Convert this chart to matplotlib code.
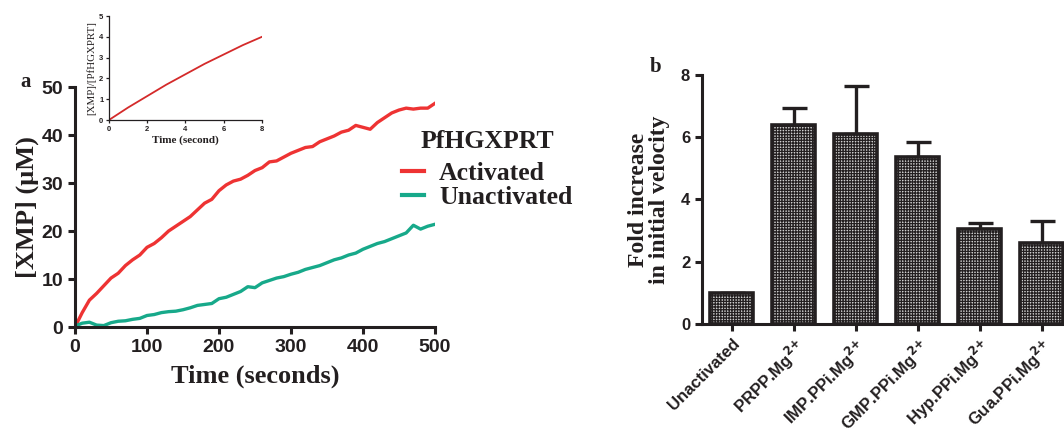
import matplotlib
matplotlib.use("Agg")
import matplotlib.pyplot as plt
import numpy as np

# ---------------- data ----------------
time_s = list(range(0, 501, 10))
activated = [0, 3.0, 5.6, 7.0, 8.6, 10.2, 11.2, 12.8, 14.0, 15.0,
             16.6, 17.4, 18.6, 20.0, 21.0, 22.0, 23.0, 24.4, 25.8, 26.6,
             28.4, 29.6, 30.4, 30.8, 31.6, 32.6, 33.2, 34.4, 34.6, 35.4,
             36.2, 36.8, 37.4, 37.6, 38.6, 39.2, 39.8, 40.6, 41.0, 42.0,
             41.6, 41.2, 42.6, 43.6, 44.6, 45.2, 45.6, 45.4, 45.6, 45.6, 46.6]
unactivated = [0.2, 0.8, 1.0, 0.4, 0.3, 0.9, 1.2, 1.3, 1.6, 1.8,
               2.4, 2.6, 3.0, 3.2, 3.3, 3.6, 4.0, 4.5, 4.7, 4.9,
               5.9, 6.2, 6.8, 7.4, 8.4, 8.2, 9.2, 9.7, 10.2, 10.5,
               11.0, 11.4, 12.0, 12.4, 12.8, 13.4, 14.0, 14.4, 15.0, 15.4,
               16.2, 16.8, 17.4, 17.8, 18.4, 19.0, 19.6, 21.2, 20.4, 21.0, 21.4]

inset_time = [0, 1, 2, 3, 4, 5, 6, 7, 8]
inset_ratio = [0, 0.6, 1.15, 1.7, 2.2, 2.7, 3.15, 3.6, 4.0]

conditions = ["Unactivated", r"PRPP.Mg$^{\mathbf{2{+}}}$", r"IMP.PPi.Mg$^{\mathbf{2{+}}}$",
              r"GMP.PPi.Mg$^{\mathbf{2{+}}}$", r"Hyp.PPi.Mg$^{\mathbf{2{+}}}$", r"Gua.PPi.Mg$^{\mathbf{2{+}}}$"]
fold_increase = [1.0, 6.4, 6.1, 5.35, 3.05, 2.6]
fold_err = [0.0, 0.55, 1.55, 0.5, 0.2, 0.7]

RED = "#ee3333"
GREEN = "#17a98a"
DARK = "#231f20"

plt.rcParams["mathtext.fontset"] = "dejavusans"
plt.rcParams["hatch.linewidth"] = 0.9
plt.rcParams["hatch.color"] = "#333333"

fig = plt.figure(figsize=(10.64, 4.34), dpi=100)

sans = ["Liberation Sans", "DejaVu Sans"]
serif = ["Liberation Serif", "DejaVu Serif"]

def style_axes(ax, lw=2.2):
    for s in ["top", "right"]:
        ax.spines[s].set_visible(False)
    for s in ["left", "bottom"]:
        ax.spines[s].set_linewidth(lw)
        ax.spines[s].set_color(DARK)
    ax.tick_params(direction="out", width=lw, length=5, color=DARK)

# ---------------- panel a ----------------
ax = fig.add_axes([0.0705, 0.2465, 0.3383, 0.553])
ax.plot(time_s, activated, color=RED, lw=2.4, label="Activated")
ax.plot(time_s, unactivated, color=GREEN, lw=2.4, label="Unactivated")
ax.set_xlim(0, 500)
ax.set_ylim(0, 50)
ax.set_xticks([0, 100, 200, 300, 400, 500])
ax.set_yticks([0, 10, 20, 30, 40, 50])
style_axes(ax)
for lab in ax.get_xticklabels() + ax.get_yticklabels():
    lab.set_fontfamily(sans)
    lab.set_fontweight("bold")
    lab.set_fontsize(14)
    lab.set_color(DARK)
ax.set_xlabel("Time (seconds)", family=serif, fontweight="bold", fontsize=19, color=DARK, labelpad=6)
ax.set_ylabel("[XMP] (μM)", family=serif, fontweight="bold", fontsize=19, color=DARK, labelpad=2)

leg = ax.legend(loc="upper left", bbox_to_anchor=(0.356, 0.753), bbox_transform=fig.transFigure,
                frameon=False, title="PfHGXPRT", handlelength=0.85, handletextpad=0.6,
                labelspacing=0.06, alignment="center",
                prop={"family": serif, "weight": "bold", "size": 18.5},
                title_fontproperties={"family": serif, "weight": "bold", "size": 18.5})
leg._legend_box.sep = 6
for line in leg.get_lines():
    line.set_linewidth(3)
for t in leg.get_texts():
    t.set_color(DARK)
leg.get_title().set_color(DARK)

fig.text(0.019, 0.8, "a", family=serif, fontweight="bold", fontsize=15, color=DARK)

# ---------------- inset ----------------
axi = fig.add_axes([0.1024, 0.7235, 0.1438, 0.2396])
axi.plot(inset_time, inset_ratio, color="#d42a2a", lw=1.3)
axi.set_xlim(0, 8)
axi.set_ylim(0, 5)
axi.set_xticks([0, 2, 4, 6, 8])
axi.set_yticks([0, 1, 2, 3, 4, 5])
for s in ["top", "right"]:
    axi.spines[s].set_visible(False)
for s in ["left", "bottom"]:
    axi.spines[s].set_linewidth(0.9)
    axi.spines[s].set_color(DARK)
axi.tick_params(direction="out", width=0.9, length=2.5, pad=1.5, color=DARK)
for lab in axi.get_xticklabels() + axi.get_yticklabels():
    lab.set_fontfamily(sans)
    lab.set_fontweight("bold")
    lab.set_fontsize(5.5)
    lab.set_color(DARK)
axi.set_xlabel("Time (second)", family=serif, fontweight="bold", fontsize=8, color=DARK, labelpad=2)
axi.set_ylabel("[XMP]/[PfHGXPRT]", family=serif, fontsize=7.8, color=DARK, labelpad=2)

# ---------------- panel b ----------------
axb = fig.add_axes([0.6598, 0.2535, 0.3402, 0.5737])
x = np.arange(len(conditions))
axb.bar(x, fold_increase, width=0.7, color="#d0d0d0", edgecolor=DARK, linewidth=2.6,
        hatch="++++++", zorder=2)
axb.errorbar(x, fold_increase, yerr=[np.zeros(len(fold_err)), fold_err], fmt="none",
             ecolor=DARK, elinewidth=2.4, capsize=9, capthick=2.4, zorder=1)
axb.set_xlim(-0.48, 5.36)
axb.set_ylim(0, 8)
axb.set_yticks([0, 2, 4, 6, 8])
axb.set_xticks(x)
style_axes(axb)
axb.set_xticklabels(conditions, rotation=45, ha="right", rotation_mode="anchor")
for lab in axb.get_xticklabels() + axb.get_yticklabels():
    lab.set_fontfamily(sans)
    lab.set_fontweight("bold")
    lab.set_fontsize(12)
    lab.set_color(DARK)
axb.set_ylabel("Fold increase\nin initial velocity", family=serif, fontweight="bold", fontsize=17,
               color=DARK, labelpad=8, linespacing=1.0)
fig.text(0.611, 0.835, "b", family=serif, fontweight="bold", fontsize=15, color=DARK)

fig.savefig("out.png", dpi=100)
